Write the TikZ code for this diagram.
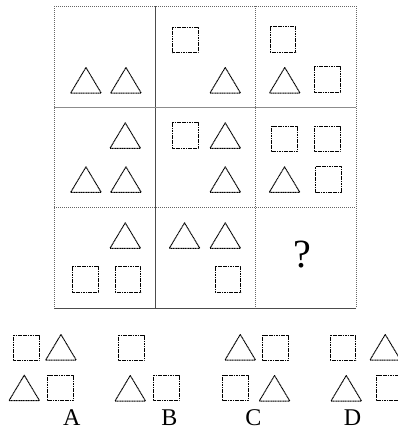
\documentclass[tikz,border=0pt]{standalone}
\usepackage{fontspec}
\setmainfont{Liberation Serif}
\begin{document}
\begin{tikzpicture}[x=1pt,y=-1pt,
  shp/.style={draw=black,line width=1pt,dash pattern=on 1.2pt off 0.5pt,line join=round},
  gridsolid/.style={draw=black!70,line width=0.9pt},
  griddot/.style={draw=black!60,line width=0.9pt,dash pattern=on 1pt off 1pt},
  lbl/.style={font=\fontsize{24}{24}\selectfont,anchor=base,inner sep=0pt},
  qm/.style={font=\fontsize{40}{40}\selectfont,inner sep=0pt}]
\useasboundingbox (0,0) rectangle (398,431);
\newcommand\mytri[2]{\draw[shp] (#1,#2) -- ++(30.5,0) -- ++(-15.25,-25.5) -- cycle;}
\newcommand\mysq[2]{\draw[shp] (#1,#2) rectangle ++(25.7,25.5);}
% grid
\draw[griddot] (54,6) -- (356,6);
\draw[griddot] (54,6) -- (54,308);
\draw[griddot] (356,6) -- (356,308);
\draw[gridsolid] (54,308) -- (356,308);
\draw[gridsolid] (155,6) -- (155,308);
\draw[griddot] (255,6) -- (255,308);
\draw[draw=black!45,line width=0.9pt] (54,107) -- (356,107);
\draw[griddot] (54,207) -- (356,207);
% row 1
\mytri{70.7}{93}\mytri{110.7}{93}
\mysq{172.3}{27.3}\mytri{210}{93}
\mysq{270}{26.7}\mytri{269.5}{93}\mysq{314.3}{66.7}
% row 2
\mytri{110}{148.3}\mytri{70.7}{192.3}\mytri{110.7}{192.3}
\mysq{172.3}{122.7}\mytri{210}{148.3}\mytri{210}{192.3}
\mysq{271.7}{126}\mysq{314.3}{126}\mytri{269.3}{192.3}\mysq{315.7}{166.5}
% row 3
\mytri{110}{248.3}\mysq{72.3}{266.7}\mysq{115}{266.7}
\mytri{169.3}{248.3}\mytri{210}{248.3}\mysq{215}{266.7}
\node[qm] (q) at (302,255) {?};
% options
\begin{scope}
\clip (0,0) rectangle (398,431);
\mysq{13.3}{335}\mytri{45.7}{360}\mytri{9}{400.7}\mysq{47.7}{375}
\mysq{118.3}{335}\mytri{115}{401}\mysq{153.3}{375}
\mytri{225}{360}\mysq{262.7}{335}\mysq{222.7}{375}\mytri{259.3}{401}
\mysq{330}{335}\mytri{370}{360}\mytri{331}{401}\mysq{376.7}{375}
\end{scope}
\node[lbl] (la) at (71.7,425.5) {A};
\node[lbl] (lb) at (169.5,425.5) {B};
\node[lbl] (lc) at (253.3,425.5) {C};
\node[lbl] (ld) at (352.5,425.5) {D};
\end{tikzpicture}
\end{document}
